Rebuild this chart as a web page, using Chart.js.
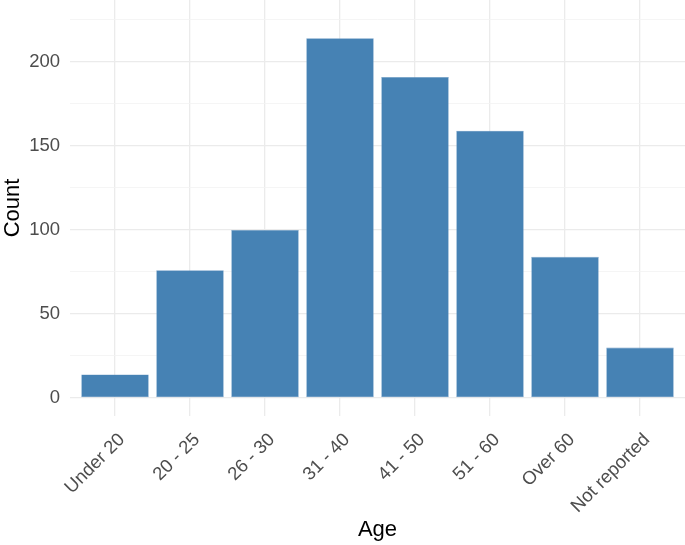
<!DOCTYPE html>
<html>
<head>
<meta charset="utf-8">
<script src="https://cdn.jsdelivr.net/npm/chart.js@4"></script>
<style>
  html, body { margin: 0; padding: 0; background: #fff; }
  #wrap { width: 685px; height: 545px; }
</style>
</head>
<body>
<div id="wrap"><canvas id="ageChart" width="685" height="545"></canvas></div>
<script>
'use strict';

// data
const ageGroups = ['Under 20', '20 - 25', '26 - 30', '31 - 40', '41 - 50', '51 - 60', 'Over 60', 'Not reported'];
const counts = [14, 76, 100, 214, 191, 159, 84, 30];
const yMajorTicks = [0, 50, 100, 150, 200];
const yMinorTicks = [25, 75, 125, 175, 225];

const FONT = '"Liberation Sans", Arial, sans-serif';
const GRID_MAJOR = '#ebebeb';
const GRID_MINOR = '#f3f3f3';

const ctx = document.getElementById('ageChart').getContext('2d');
new Chart(ctx, {
  type: 'bar',
  data: {
    datasets: [{
      label: 'Count',
      data: counts.map((c, i) => ({ x: i + 1, y: c })),
      backgroundColor: '#4682b4',
      borderColor: '#6f9cc4',
      borderWidth: 0.6,
      borderSkipped: false,
      barPercentage: 0.9,
      categoryPercentage: 1,
    }],
  },
  options: {
    responsive: false,
    animation: false,
    layout: { padding: 0 },
    plugins: { legend: { display: false }, tooltip: { enabled: false } },
    scales: {
      x: {
        type: 'linear',
        offset: false,
        min: 0.4,
        max: 8.6,
        afterBuildTicks: s => { s.ticks = ageGroups.map((_, i) => ({ value: i + 1 })); },
        afterFit: s => { s.height = 129; s.paddingLeft = 0; s.paddingRight = 0; },
        border: { display: false },
        grid: { offset: false, color: GRID_MAJOR, lineWidth: 1.3, drawTicks: false },
        ticks: {
          autoSkip: false,
          minRotation: 45,
          maxRotation: 45,
          padding: 13,
          labelOffset: 7,
          color: '#4d4d4d',
          font: { family: FONT, size: 18.5 },
          callback: v => ageGroups[v - 1] || '',
        },
        title: {
          display: true,
          text: 'Age',
          color: '#000',
          font: { family: FONT, size: 22 },
          padding: { top: 0, bottom: 2 },
        },
      },
      y: {
        min: -10.7,
        max: 236.8,
        afterBuildTicks: s => {
          s.ticks = yMajorTicks.concat(yMinorTicks).sort((a, b) => a - b).map(v => ({ value: v }));
        },
        afterFit: s => { s.width = 70; s.paddingTop = 0; s.paddingBottom = 0; },
        border: { display: false },
        grid: {
          drawTicks: false,
          color: c => (c.tick.value % 50 === 0 ? GRID_MAJOR : GRID_MINOR),
          lineWidth: c => (c.tick.value % 50 === 0 ? 1.3 : 0.8),
        },
        ticks: {
          padding: 10,
          color: '#4d4d4d',
          font: { family: FONT, size: 18.5 },
          callback: v => (yMajorTicks.includes(v) ? String(v) : ''),
        },
        title: {
          display: true,
          text: 'Count',
          color: '#000',
          font: { family: FONT, size: 22 },
          padding: { top: 0, bottom: 0 },
        },
      },
    },
  },
});
</script>
</body>
</html>
